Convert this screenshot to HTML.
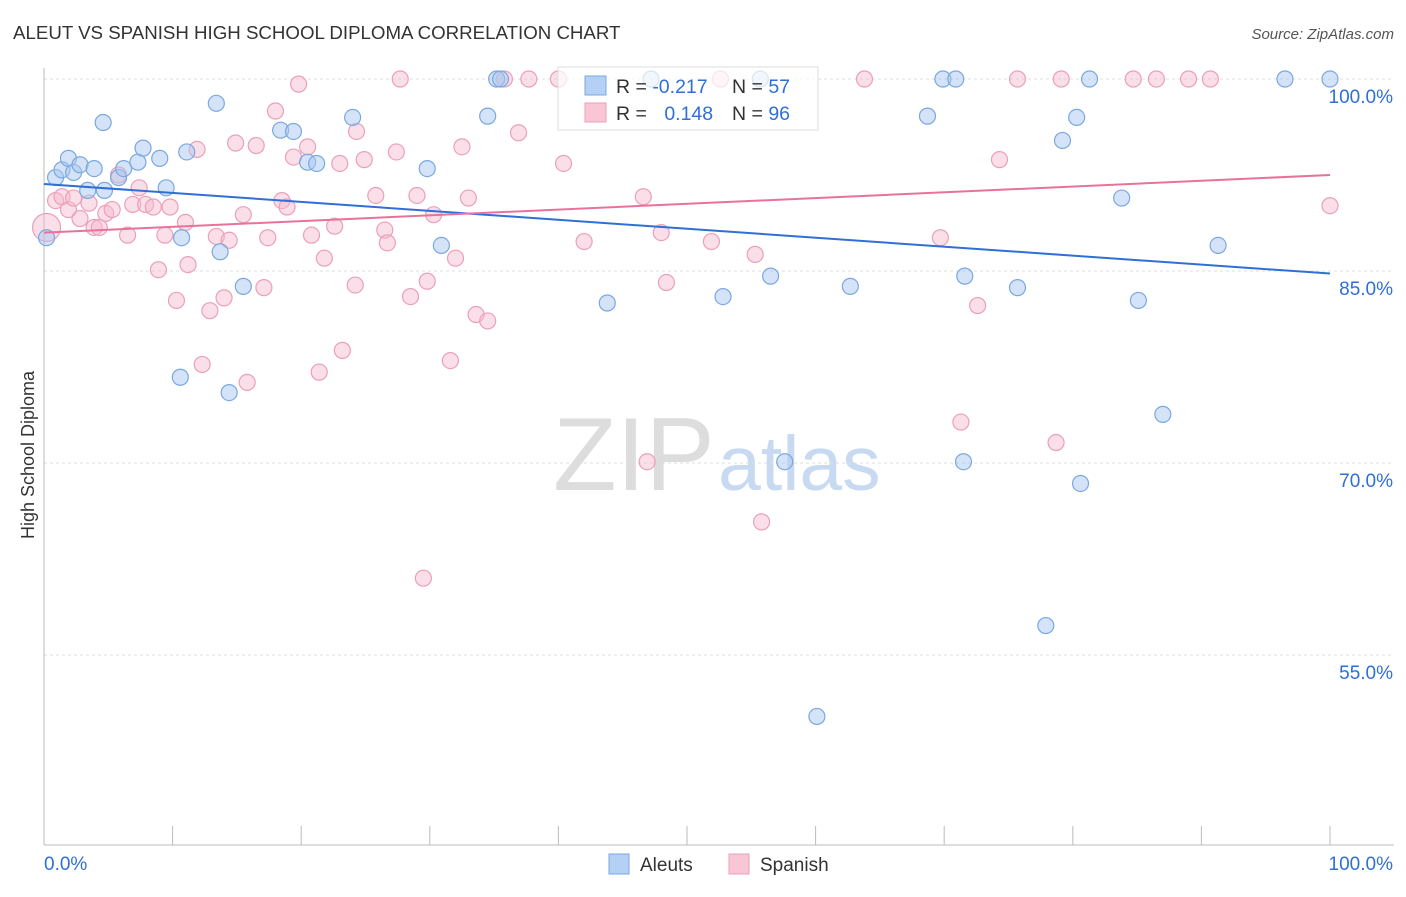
<!DOCTYPE html>
<html><head><meta charset="utf-8"><style>
body{margin:0;background:#fff;font-family:"Liberation Sans",sans-serif;}
svg text{font-family:"Liberation Sans",sans-serif;}
</style></head><body>
<svg id="chart" width="1406" height="892" xmlns="http://www.w3.org/2000/svg">
<text x="13" y="39" font-size="18.7" fill="#333">ALEUT VS SPANISH HIGH SCHOOL DIPLOMA CORRELATION CHART</text>
<text x="1394" y="39" font-size="15" fill="#555" font-style="italic" text-anchor="end">Source: ZipAtlas.com</text>
<text x="553" y="490" font-size="104" fill="#ddd" font-family="Liberation Serif">ZIP</text>
<text x="718" y="490" font-size="77" fill="#c8daf2">atlas</text>
<text transform="translate(34,455) rotate(-90)" font-size="18" fill="#333" text-anchor="middle">High School Diploma</text>
<g id="grid"></g><g id="axes"></g><g id="pts"></g><g id="lines"></g>
<g>
<rect x="558" y="67" width="260" height="63" fill="#fff" fill-opacity="0.7" stroke="#ddd"/>
<rect x="585" y="76" width="21" height="19" fill="#b4d0f4" stroke="#7aa8e0"/>
<rect x="585" y="103" width="21" height="19" fill="#f9c6d6" stroke="#eba0b8"/>
<text x="616" y="93" font-size="19.5" fill="#333">R = <tspan fill="#2f6fd6">-0.217</tspan></text>
<text x="732" y="93" font-size="19.5" fill="#333">N = <tspan fill="#2f6fd6">57</tspan></text>
<text x="616" y="120" font-size="19.5" fill="#333">R = <tspan fill="#2f6fd6" dx="12">0.148</tspan></text>
<text x="732" y="120" font-size="19.5" fill="#333">N = <tspan fill="#2f6fd6">96</tspan></text>
</g>
<g>
<rect x="609" y="854" width="20" height="20" fill="#b4d0f4" stroke="#7aa8e0"/>
<text x="640" y="871" font-size="19" fill="#333">Aleuts</text>
<rect x="729" y="854" width="20" height="20" fill="#f9c6d6" stroke="#eba0b8"/>
<text x="760" y="871" font-size="19" fill="#333">Spanish</text>
</g>
</svg>
<script>
const yTicks=[100,85,70,55];
const yTickLabels=["100.0%","85.0%","70.0%","55.0%"];
const aleutX=[0.2,0.9,1.4,1.9,2.3,2.8,3.4,3.9,4.6,4.7,5.8,6.2,7.3,7.7,9.0,9.5,10.7,10.6,11.1,13.4,13.7,14.4,15.5,18.4,19.4,20.5,21.2,24.0,29.8,30.9,34.5,35.2,35.5,43.8,47.2,52.8,55.7,56.5,57.6,60.1,62.7,68.7,69.9,70.9,71.5,71.6,75.7,77.9,79.2,80.3,80.6,81.3,83.8,85.1,87.0,91.3,96.5,100];
const aleutY=[87.6,92.3,92.9,93.8,92.7,93.3,91.3,93.0,96.6,91.3,92.3,93.0,93.5,94.6,93.8,91.5,87.6,76.7,94.3,98.1,86.5,75.5,83.8,96.0,95.9,93.5,93.4,97.0,93.0,87.0,97.1,100,100,82.5,100,83.0,100,84.6,70.1,50.2,83.8,97.1,100,100,70.1,84.6,83.7,57.3,95.2,97.0,68.4,100,90.7,82.7,73.8,87.0,100,100];
const spanX=[0.2,0.9,1.4,1.9,2.3,2.8,3.5,3.9,4.3,4.8,5.3,5.8,6.5,6.9,7.4,7.9,8.5,8.9,9.4,9.8,10.3,11.0,11.2,11.9,12.3,12.9,13.4,14.0,14.4,14.9,15.5,15.8,16.5,17.1,17.4,18.0,18.5,18.9,19.4,19.8,20.5,20.8,21.4,21.8,22.6,23.0,23.2,24.2,24.3,24.9,25.8,26.5,26.7,27.4,27.7,28.5,29.0,29.5,29.8,30.3,32.0,32.5,33.0,33.6,34.5,31.6,35.8,36.9,37.7,40.0,40.4,42.0,46.6,46.9,48.0,48.4,51.9,52.6,55.3,55.8,63.8,69.7,71.3,72.6,74.3,75.7,78.7,79.1,84.7,86.5,89.0,90.7,100];
const spanY=[88.4,90.5,90.8,89.8,90.7,89.1,90.3,88.4,88.4,89.5,89.8,92.5,87.8,90.2,91.5,90.2,90.0,85.1,87.8,90.0,82.7,88.8,85.5,94.5,77.7,81.9,87.7,82.9,87.4,95.0,89.4,76.3,94.8,83.7,87.6,97.5,90.5,90.0,93.9,99.6,94.7,87.8,77.1,86.0,88.5,93.4,78.8,83.9,95.9,93.7,90.9,88.2,87.2,94.3,100,83.0,90.9,61.0,84.2,89.4,86.0,94.7,90.7,81.6,81.1,78.0,100,95.8,100,100,93.4,87.3,90.8,70.1,88.0,84.1,87.3,100,86.3,65.4,100,87.6,73.2,82.3,93.7,100,71.6,100,100,100,100,100,90.1];
const aleutTrend=[91.8,84.8];
const spanTrend=[88.0,92.5];
const NS="http://www.w3.org/2000/svg";
const X=v=>44+v*12.86, Y=v=>79+(100-v)*12.8;
function mk(t,a,p){const e=document.createElementNS(NS,t);for(const k in a)e.setAttribute(k,a[k]);p.appendChild(e);return e;}
const grid=document.getElementById('grid'),axes=document.getElementById('axes');
yTicks.forEach((t,i)=>{
 const l=mk('line',{x1:44,x2:1394,y1:Y(t),y2:Y(t),stroke:'#ddd','stroke-dasharray':'3,3'},grid);
 
 
 const tx=mk('text',{x:1393,y:Y(t)+24,'font-size':19,fill:'#2f6fd6','text-anchor':'end'},axes);tx.textContent=yTickLabels[i];
 
 
});
const xa=mk('line',{x1:44,x2:1394,y1:845,y2:845,stroke:'#bbb'},axes);


const ya=mk('line',{x1:44,x2:44,y1:68,y2:845,stroke:'#bbb'},axes);


for(let i=1;i<=10;i++){const t=mk('line',{x1:X(i*10),x2:X(i*10),y1:826,y2:845,stroke:'#bbb'},axes);
 
 }
const xl0=mk('text',{x:44,y:870,'font-size':19,fill:'#2f6fd6'},axes);xl0.textContent='0.0%';


const xl1=mk('text',{x:1393,y:870,'font-size':19,fill:'#2f6fd6','text-anchor':'end'},axes);xl1.textContent='100.0%';


const pts=document.getElementById('pts');
spanX.forEach((v,i)=>{const c=mk('circle',{cx:X(v),cy:Y(spanY[i]),r:i==0?14:8,fill:'#f5b8cb','fill-opacity':0.45,stroke:'#eba0b8','stroke-width':1.2},pts);
 
 });
aleutX.forEach((v,i)=>{const c=mk('circle',{cx:X(v),cy:Y(aleutY[i]),r:8,fill:'#a9c8f0','fill-opacity':0.5,stroke:'#7aa8e0','stroke-width':1.2},pts);
 
 });
const lines=document.getElementById('lines');
const la=mk('line',{x1:X(0),y1:Y(aleutTrend[0]),x2:X(100),y2:Y(aleutTrend[1]),stroke:'#2f6fd6','stroke-width':2},lines);


const ls=mk('line',{x1:X(0),y1:Y(spanTrend[0]),x2:X(100),y2:Y(spanTrend[1]),stroke:'#e8739a','stroke-width':2},lines);


</script>
</body></html>
